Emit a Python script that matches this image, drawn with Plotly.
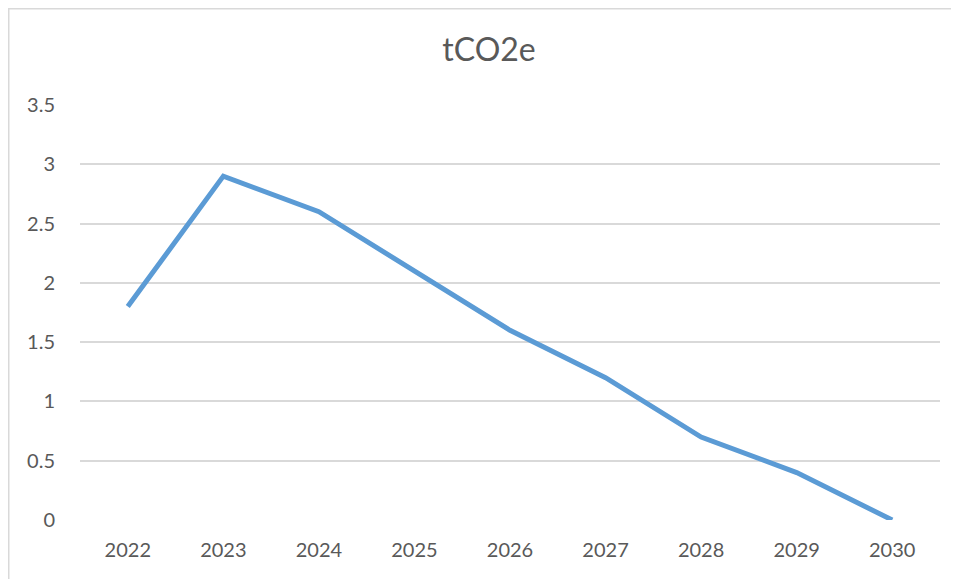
import plotly.graph_objects as go

years = ["2022", "2023", "2024", "2025", "2026", "2027", "2028", "2029", "2030"]
tco2e = [1.8, 2.9, 2.6, 2.1, 1.6, 1.2, 0.7, 0.4, 0.0]
y_ticks = [0, 0.5, 1, 1.5, 2, 2.5, 3, 3.5]
y_tick_labels = ["0", "0.5", "1", "1.5", "2", "2.5", "3", "3.5"]

# page body adds an 8px offset, so figure pixel coordinates are screen - 8
W, H = 959, 579
L, R, T, B = 72, 27, 97, 67
pw, ph = W - L - R, H - T - B

fig = go.Figure(go.Scatter(
    x=years, y=tco2e, mode="lines",
    line=dict(color="#5B9BD5", width=5),
    hoverinfo="x+y",
))

def px_x(p):
    return (p - L) / pw

def px_y(p):
    return (H - B - p) / ph

fig.update_layout(
    width=W, height=H,
    margin=dict(l=L, r=R, t=T, b=B),
    paper_bgcolor="white", plot_bgcolor="white",
    showlegend=False,
    font=dict(family="Lato", color="#595959"),
    title=dict(text="tCO2e", x=481 / W, xanchor="center", y=1 - 42 / H, yanchor="middle",
               font=dict(size=32, color="#595959", family="Lato")),
    xaxis=dict(type="category", range=[-0.5, 8.5], showgrid=False, showline=False,
               zeroline=False, ticks="", tickfont=dict(size=20, color="#595959"),
               ticklabelstandoff=16, fixedrange=True),
    yaxis=dict(range=[0, 3.5], tickvals=y_ticks, ticktext=y_tick_labels,
               showgrid=True, gridcolor="#D9D9D9", gridwidth=1.5,
               zeroline=False, showline=False, ticks="",
               tickfont=dict(size=20, color="#595959"),
               ticklabelstandoff=24, fixedrange=True),
    shapes=[
        dict(type="rect", xref="paper", yref="paper",
             x0=px_x(0.75), x1=px_x(950.5), y0=px_y(590), y1=px_y(0.75),
             line=dict(color="#D9D9D9", width=1.5), fillcolor="rgba(0,0,0,0)", layer="below"),
    ],
)

fig.write_html("out.html")
